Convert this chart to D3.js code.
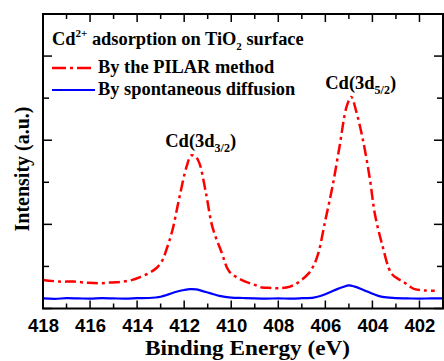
<!DOCTYPE html>
<html><head><meta charset="utf-8">
<script src="https://cdn.jsdelivr.net/npm/d3@7"></script>
<style>
html,body{margin:0;padding:0;background:#fff;}
svg{display:block;}
.serif{font-family:"Liberation Serif","Times New Roman",serif;font-weight:bold;}
.sans{font-family:"Liberation Sans",Arial,sans-serif;font-weight:bold;}
</style>
</head><body>
<svg id="chart" width="444" height="361"></svg>
<script>
// ---- data ----
const redEnergy = [418.0,417.3,416.7,416.1,415.6,415.1,414.6,414.2,413.9,413.5,413.2,412.95,412.76,412.5,412.2,411.9,411.7,411.5,411.35,411.07,410.8,410.4,410.1,409.7,409.4,409.0,408.7,408.3,408.0,407.5,407.1,406.7,406.5,406.3,406.0,405.7,405.4,405.1,404.9,404.7,404.4,404.1,403.9,403.6,403.2,402.9,402.7,402.4,402.2,401.8,401.35];
const redValues = [0.68,0.64,0.64,0.61,0.60,0.62,0.64,0.68,0.74,0.84,0.95,1.12,1.39,1.86,2.65,3.37,3.64,3.60,3.45,2.73,1.94,1.32,0.89,0.72,0.64,0.56,0.50,0.49,0.48,0.52,0.64,0.84,1.02,1.31,2.10,2.89,3.84,4.79,5.03,4.71,4.00,3.05,2.26,1.55,0.84,0.70,0.64,0.52,0.46,0.43,0.42];
const blueEnergy = [418,417.5,417,416.5,416,415.5,415,414.5,414,413.5,413,412.75,412.5,412.25,412,411.75,411.5,411.25,411,410.75,410.5,410,409.5,409,408.5,408,407.5,407,406.5,406.25,406,405.75,405.5,405.25,405,404.75,404.5,404.25,404,403.75,403.5,403,402.5,402,401.5,401];
const blueValues = [0.24,0.23,0.245,0.24,0.235,0.245,0.24,0.235,0.245,0.25,0.28,0.32,0.37,0.41,0.44,0.46,0.455,0.42,0.38,0.34,0.30,0.26,0.25,0.24,0.235,0.24,0.235,0.245,0.26,0.29,0.34,0.40,0.46,0.51,0.55,0.52,0.47,0.41,0.35,0.30,0.27,0.245,0.24,0.235,0.24,0.24];
const xTicks = [418,416,414,412,410,408,406,404,402];
const seriesNames = ["By the PILAR method","By spontaneous diffusion"];
const peakLabels = [{e:411.7, v:3.64, main:"Cd(3d", sub:"3/2", end:")"},{e:404.9, v:5.03, main:"Cd(3d", sub:"5/2", end:")"}];

// ---- layout ----
const svg = d3.select("#chart");
const L=43, R=443, T=14, B=308.5;
const x = d3.scaleLinear().domain([418,401]).range([L,R]);
const y = d3.scaleLinear().domain([0,7]).range([B,T]);

// ticks
const minorX = d3.range(401,419,1);
const yT = d3.range(0,8,1);
const tk = svg.append("g").attr("stroke","#000").attr("stroke-width",1.5);
minorX.forEach(v=>{
  const len = (v%2===0)?8:5;
  tk.append("line").attr("x1",x(v)).attr("x2",x(v)).attr("y1",B).attr("y2",B-len);
  tk.append("line").attr("x1",x(v)).attr("x2",x(v)).attr("y1",T).attr("y2",T+len);
});
yT.forEach(v=>{
  const len = (v%2===0)?9:6;
  tk.append("line").attr("x1",L).attr("x2",L+len).attr("y1",y(v)).attr("y2",y(v));
  tk.append("line").attr("x1",R).attr("x2",R-len).attr("y1",y(v)).attr("y2",y(v));
});

// bottom axis labels via d3 axis (text only)
const ax = svg.append("g").attr("transform",`translate(0,${B})`)
  .call(d3.axisBottom(x).tickValues(xTicks).tickSize(0).tickPadding(10.5).tickFormat(d3.format("d")));
ax.select(".domain").remove();
ax.selectAll("text").attr("class","sans").style("font-size","18.5px").attr("fill","#000");

// lines
const line = d3.line().x(d=>x(d[0])).y(d=>y(d[1])).curve(d3.curveCatmullRom.alpha(0.5));
svg.append("path").datum(blueEnergy.map((e,i)=>[e,blueValues[i]]))
  .attr("d",line).attr("fill","none").attr("stroke","#0000ff").attr("stroke-width",2.2);
svg.append("path").datum(redEnergy.map((e,i)=>[e,redValues[i]]))
  .attr("d",line).attr("fill","none").attr("stroke","#ff0000").attr("stroke-width",2.5)
  .attr("stroke-dasharray","11,4,3,4");

// frame
svg.append("rect").attr("x",L).attr("y",T).attr("width",R-L).attr("height",B-T)
  .attr("fill","none").attr("stroke","#000").attr("stroke-width",2);

// title inside
const t = svg.append("text").attr("class","serif").attr("x",52).attr("y",45).style("font-size","18.4px");
t.append("tspan").text("Cd");
t.append("tspan").attr("dy",-8).style("font-size","11px").text("2+");
t.append("tspan").attr("dy",8).text(" adsorption on TiO");
t.append("tspan").attr("dy",5).style("font-size","11px").text("2");
t.append("tspan").attr("dy",-5).text(" surface");

// legend
svg.append("line").attr("x1",52).attr("x2",91).attr("y1",68).attr("y2",68)
  .attr("stroke","#ff0000").attr("stroke-width",2.5).attr("stroke-dasharray","14,4,3,4");
svg.append("line").attr("x1",52).attr("x2",95).attr("y1",90).attr("y2",90)
  .attr("stroke","#0000ff").attr("stroke-width",2.2);
svg.append("text").attr("class","serif").attr("x",98).attr("y",73).style("font-size","18.4px").text(seriesNames[0]);
svg.append("text").attr("class","serif").attr("x",98).attr("y",95).style("font-size","18.4px").text(seriesNames[1]);

// peak labels
peakLabels.forEach(p=>{
  const tt = svg.append("text").attr("class","serif").attr("x",x(p.e)-26).attr("y",y(p.v)-8).style("font-size","18.5px");
  tt.append("tspan").text(p.main);
  tt.append("tspan").attr("dy",5).style("font-size","12px").text(p.sub);
  tt.append("tspan").attr("dy",-5).text(p.end);
});

// axis titles
svg.append("text").attr("class","serif").attr("x",247.5).attr("y",355).attr("text-anchor","middle")
  .attr("textLength",205).attr("lengthAdjust","spacingAndGlyphs")
  .style("font-size","21px").text("Binding Energy (eV)");
svg.append("text").attr("class","serif").attr("transform",`translate(28.5,${169}) rotate(-90)`)
  .attr("text-anchor","middle").style("font-size","20px").text("Intensity (a.u.)");
</script>
</body></html>
